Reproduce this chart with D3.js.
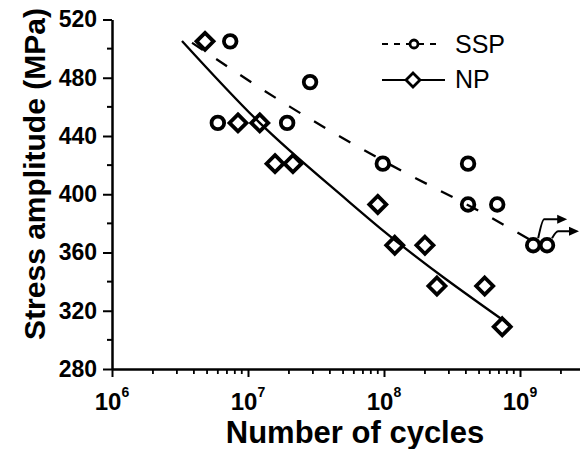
<!DOCTYPE html>
<html>
<head>
<meta charset="utf-8">
<script src="https://cdn.jsdelivr.net/npm/d3@7"></script>
<style>
  body { margin: 0; background: #fff; }
  text { font-family: Arial, "Liberation Sans", sans-serif; fill: #000; }
</style>
</head>
<body>
<svg id="chart" width="580" height="449"></svg>
<script>
// SSP specimens (open circles)
const sspCycles = [7.4e6, 2.86e7, 6.0e6, 1.94e7, 9.8e7, 4.15e8, 4.15e8, 6.8e8, 1.25e9, 1.58e9];
const sspStress = [505, 477, 449, 449, 421, 421, 393, 393, 365, 365];
// NP specimens (open diamonds)
const npCycles = [4.83e6, 8.44e6, 1.22e7, 1.58e7, 2.14e7, 9.0e7, 1.2e8, 2.0e8, 2.45e8, 5.5e8, 7.4e8];
const npStress = [505, 449, 449, 421, 421, 393, 365, 365, 337, 337, 309];
// fitted S-N curves
const sspFitCycles = [3.88e6, 2.04e7, 9.84e7, 6.0e8, 1.19e9];
const sspFitStress = [504, 460, 423, 384.4, 368.6];
const npFitCycles = [3.27e6, 1.22e7, 5.35e7, 9.35e7, 8.44e8];
const npFitStress = [505.3, 449, 396, 376.8, 310.2];
// run-out specimens (indices into SSP arrays)
const runouts = [8, 9];

const xMajor = [1e6, 1e7, 1e8, 1e9];
const xExponents = ['6', '7', '8', '9'];
const yMajor = [280, 320, 360, 400, 440, 480, 520];
const yMinor = [300, 340, 380, 420, 460, 500];

const svg = d3.select('#chart');

let x = d3.scaleLog().domain([1e6, Math.pow(10, 9.45)]).range([112, 581.2]);
let y = d3.scaleLinear().domain([280, 520]).range([369, 19.5]);

// minor ticks for log axis
let xMinor = [];
for (let e = 6; e <= 9; e++) {
  for (let m = 2; m <= 9; m++) {
    let v = m * Math.pow(10, e);
    if (v <= x.domain()[1]) xMinor.push(v);
  }
}

// y axis
let yAxis = svg.append('g')
  .attr('transform', 'translate(112,0)')
  .call(d3.axisLeft(y).tickValues(yMajor).tickSize(9).tickSizeOuter(0).tickPadding(6));
yAxis.select('.domain').attr('stroke-width', 2.5);
yAxis.selectAll('.tick line').attr('stroke-width', 2);
yAxis.selectAll('.tick text')
  .attr('font-size', 23).attr('font-weight', 'bold')
  .attr('font-family', 'Arial, "Liberation Sans", sans-serif');
yAxis.selectAll('.minor').data(yMinor).enter().append('line')
  .attr('class', 'minor')
  .attr('x1', -5).attr('x2', 0)
  .attr('y1', d => y(d)).attr('y2', d => y(d))
  .attr('stroke', '#000').attr('stroke-width', 2);

// x axis
let xAxis = svg.append('g')
  .attr('transform', 'translate(0,369)')
  .call(d3.axisBottom(x).tickValues(xMajor).tickSize(8).tickSizeOuter(0).tickFormat(''));
xAxis.select('.domain').attr('stroke-width', 2.5);
xAxis.selectAll('.tick line').attr('stroke-width', 2);
xAxis.selectAll('.minor').data(xMinor).enter().append('line')
  .attr('class', 'minor')
  .attr('x1', d => x(d)).attr('x2', d => x(d))
  .attr('y1', 0).attr('y2', 5)
  .attr('stroke', '#000').attr('stroke-width', 1.8);

let xLabels = svg.append('g').selectAll('text').data(xMajor).enter().append('text')
  .attr('x', d => x(d)).attr('y', 410)
  .attr('text-anchor', 'middle')
  .attr('font-weight', 'bold');
xLabels.append('tspan').attr('font-size', 24).text('10');
xLabels.append('tspan').attr('font-size', 14).attr('dy', -13).text((d, i) => xExponents[i]);

// axis titles
svg.append('text')
  .attr('x', 355).attr('y', 443)
  .attr('text-anchor', 'middle')
  .attr('font-size', 31).attr('font-weight', 'bold')
  .text('Number of cycles');
svg.append('text')
  .attr('transform', 'translate(45,174) rotate(-90)')
  .attr('text-anchor', 'middle')
  .attr('font-size', 30).attr('font-weight', 'bold')
  .text('Stress amplitude (MPa)');

// fit curves
let line = d3.line().x(d => x(d[0])).y(d => y(d[1])).curve(d3.curveMonotoneX);
svg.append('path')
  .datum(sspFitCycles.map((c, i) => [c, sspFitStress[i]]))
  .attr('d', line)
  .attr('fill', 'none').attr('stroke', '#000').attr('stroke-width', 2.3)
  .attr('stroke-dasharray', '13,16');
svg.append('path')
  .datum(npFitCycles.map((c, i) => [c, npFitStress[i]]))
  .attr('d', line)
  .attr('fill', 'none').attr('stroke', '#000').attr('stroke-width', 2.3);

function diamond(h) {
  return 'M0,' + (-h) + 'L' + h + ',0L0,' + h + 'L' + (-h) + ',0Z';
}

// data points
svg.append('g').selectAll('circle').data(sspCycles).enter().append('circle')
  .attr('cx', d => x(d))
  .attr('cy', (d, i) => y(sspStress[i]))
  .attr('r', 6.3)
  .attr('fill', 'none').attr('stroke', '#000').attr('stroke-width', 3.8);

svg.append('g').selectAll('path').data(npCycles).enter().append('path')
  .attr('transform', (d, i) => 'translate(' + x(d) + ',' + y(npStress[i]) + ')')
  .attr('d', diamond(8.5))
  .attr('fill', 'none').attr('stroke', '#000').attr('stroke-width', 3.8)
  .attr('stroke-linejoin', 'miter');

// run-out arrows
runouts.forEach(function (idx, k) {
  let cx = x(sspCycles[idx]), cy = y(sspStress[idx]);
  let rise = k == 0 ? 26 : 14;
  let len = k == 0 ? 25 : 23;
  let g = svg.append('g');
  g.append('path')
    .attr('d', 'M' + (cx + 5) + ',' + (cy - 7) +
      'Q' + (cx + 9) + ',' + (cy - rise) + ' ' + (cx + 11) + ',' + (cy - rise) +
      'L' + (cx + len) + ',' + (cy - rise))
    .attr('fill', 'none').attr('stroke', '#000').attr('stroke-width', 2);
  g.append('path')
    .attr('d', 'M' + (cx + len - 1) + ',' + (cy - rise - 4.5) +
      'L' + (cx + len + 9) + ',' + (cy - rise) +
      'L' + (cx + len - 1) + ',' + (cy - rise + 4.5) + 'Z')
    .attr('fill', '#000');
});

// legend
let legend = svg.append('g');
legend.append('line')
  .attr('x1', 382).attr('x2', 442).attr('y1', 44).attr('y2', 44)
  .attr('stroke', '#000').attr('stroke-width', 2).attr('stroke-dasharray', '6,6');
legend.append('circle')
  .attr('cx', 414).attr('cy', 44).attr('r', 4)
  .attr('fill', '#fff').attr('stroke', '#000').attr('stroke-width', 2.8);
legend.append('text').attr('x', 455).attr('y', 53).attr('font-size', 25).text('SSP');

legend.append('line')
  .attr('x1', 382).attr('x2', 445).attr('y1', 80).attr('y2', 80)
  .attr('stroke', '#000').attr('stroke-width', 2);
legend.append('path')
  .attr('transform', 'translate(413,80)')
  .attr('d', diamond(7))
  .attr('fill', '#fff').attr('stroke', '#000').attr('stroke-width', 2.8);
legend.append('text').attr('x', 455).attr('y', 88).attr('font-size', 25).text('NP');
</script>
</body>
</html>
